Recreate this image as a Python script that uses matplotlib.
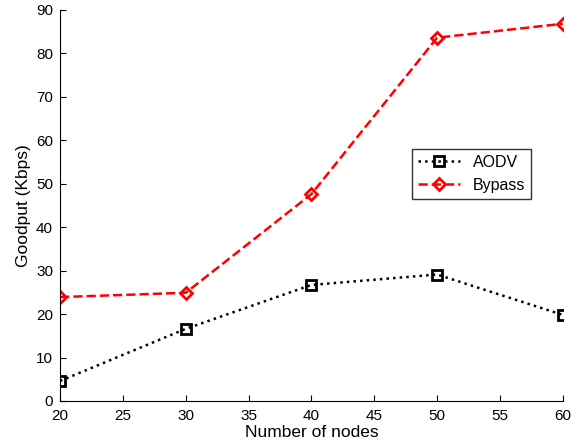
import matplotlib

matplotlib.use("Agg")
import matplotlib.pyplot as plt  # noqa: E402

nodes = [20, 30, 40, 50, 60]
aodv = [4.6, 16.6, 26.7, 29.1, 19.8]
bypass = [23.9, 24.9, 47.6, 83.6, 86.8]

plt.rcParams["font.family"] = ["Liberation Sans", "DejaVu Sans"]

fig = plt.figure(figsize=(5.72, 4.48), dpi=100)
ax = fig.add_axes([0.105, 0.105, 0.879, 0.873])

ax.plot(nodes, aodv, color="black", linestyle=":", linewidth=1.8, marker="s",
        markersize=7, markerfacecolor="none", markeredgewidth=2, label="AODV")
ax.plot(nodes, bypass, color="red", linestyle="--", linewidth=1.8, marker="D",
        markersize=6.5, markerfacecolor="none", markeredgewidth=2, label="Bypass")

ax.set_xlim(20, 60)
ax.set_ylim(0, 90)
ax.set_xticks(range(20, 61, 5))
ax.set_yticks(range(0, 91, 10))
ax.spines["top"].set_visible(False)
ax.spines["right"].set_visible(False)
ax.tick_params(direction="in", labelsize=11, length=4)
ax.tick_params(axis="x", pad=6)
ax.tick_params(axis="y", pad=5)
ax.set_xlabel("Number of nodes", fontsize=12.5, labelpad=1)
ax.set_ylabel("Goodput (Kbps)", fontsize=12.5, labelpad=4)

leg = ax.legend(loc="upper left", bbox_to_anchor=(0.70, 0.645), fontsize=11.5,
                frameon=True, fancybox=False, borderaxespad=0, handlelength=2.6)
leg.get_frame().set_edgecolor("black")
leg.get_frame().set_linewidth(1.0)

fig.savefig("out.png", dpi=100)
